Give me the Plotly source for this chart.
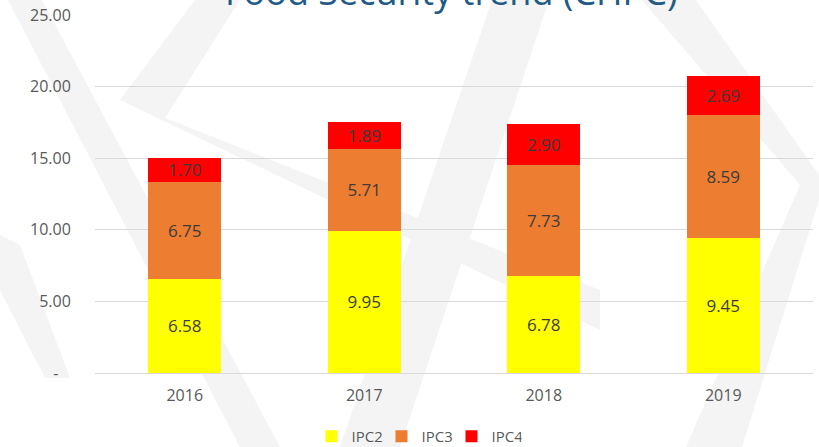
import plotly.graph_objects as go

# ---- data ----
years = ["2016", "2017", "2018", "2019"]
ipc2 = [6.58, 9.95, 6.78, 9.45]
ipc3 = [6.75, 5.71, 7.73, 8.59]
ipc4 = [1.70, 1.89, 2.90, 2.69]
series_names = ["IPC2", "IPC3", "IPC4"]
series_colors = ["#FFFF00", "#ED7D31", "#FF0000"]
ytick_vals = [0, 5, 10, 15, 20, 25]
ytick_text = ["-\u00a0\u00a0\u00a0", "5.00", "10.00", "15.00", "20.00", "25.00"]
title_text = "Food Security trend (CHPC)"

W, H = 819, 447
ML, MR, MT, MB = 95, 6, 15, 74
PW, PH = W - ML - MR, H - MT - MB


def px2paper(x, y):
    return (x - ML) / PW, (H - MB - y) / PH


def poly(points):
    pts = [px2paper(x, y) for x, y in points]
    d = "M " + " L ".join(f"{a:.4f},{b:.4f}" for a, b in pts) + " Z"
    return dict(type="path", path=d, xref="paper", yref="paper",
                fillcolor="#f4f4f4", line=dict(width=0), layer="below")


fig = go.Figure()
for name, vals, col in zip(series_names, [ipc2, ipc3, ipc4], series_colors):
    fig.add_trace(go.Bar(
        x=years, y=vals, name=name, marker=dict(color=col, line=dict(width=0)),
        text=[f"{v:.2f}" for v in vals], textposition="inside",
        insidetextanchor="middle", textangle=0,
        textfont=dict(family="Open Sans", size=17, color="#3c3c3c"),
        constraintext="none", hoverinfo="skip",
    ))

# faint decorative background bands (slide watermark)
bg_shapes = [
    poly([(8, 0), (42, 0), (280, 447), (240, 447)]),
    poly([(195, 0), (240, 0), (165, 118), (600, 290), (600, 330), (120, 100)]),
    poly([(492, 0), (549, 0), (400, 447), (340, 447)]),
    poly([(642, 0), (696, 0), (819, 175), (819, 200), (742, 447), (686, 447), (800, 185)]),
    poly([(0, 235), (20, 245), (70, 378), (45, 378), (0, 290)]),
]

fig.update_layout(
    width=W, height=H,
    margin=dict(l=ML, r=MR, t=MT, b=MB, autoexpand=False),
    paper_bgcolor="white", plot_bgcolor="rgba(0,0,0,0)",
    barmode="stack", bargap=0.595,
    font=dict(family="Open Sans", color="#595959"),
    shapes=bg_shapes,
    showlegend=True,
    legend=dict(orientation="h", x=0.3015, xanchor="left", y=-0.131, yanchor="top",
                font=dict(size=15, color="#595959"), traceorder="normal",
                itemwidth=30, entrywidth=25, entrywidthmode="pixels",
                bgcolor="rgba(0,0,0,0)"),
    annotations=[dict(text=title_text, x=0.497, y=0.991, xref="paper", yref="paper",
                      xanchor="center", yanchor="bottom", showarrow=False,
                      font=dict(family="Open Sans", size=36, color="#215a86"))],
)
fig.update_yaxes(range=[0, 25], tickvals=ytick_vals, ticktext=ytick_text,
                 showgrid=True, gridcolor="#d9d9d9", gridwidth=1,
                 zeroline=True, zerolinecolor="#d9d9d9", zerolinewidth=1,
                 showline=False, ticks="outside", ticklen=20,
                 tickcolor="rgba(0,0,0,0)", automargin=False,
                 tickfont=dict(size=16, color="#595959"))
fig.update_xaxes(showgrid=False, showline=False, ticks="outside", ticklen=8,
                 tickcolor="rgba(0,0,0,0)", automargin=False,
                 tickfont=dict(size=16, color="#595959"))

fig.write_html("out.html", config={"displayModeBar": False},
               post_script="document.body.style.margin='0px';")
